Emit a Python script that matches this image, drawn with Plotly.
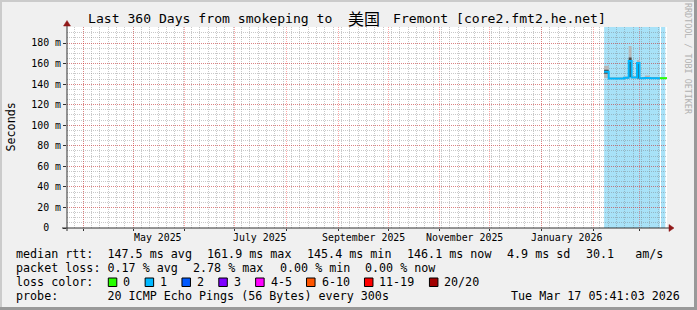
import plotly.graph_objects as go
from datetime import datetime

# ---------------- data ----------------
t_start = "2025-03-22 05:41:03"
t_end = "2026-03-17 05:41:03"

seg_time = ["2026-02-07 12:00", "2026-02-10 06:00", "2026-02-19 12:00", "2026-02-22 06:00",
            "2026-02-24 00:00", "2026-02-27 06:00", "2026-02-28 18:00", "2026-03-04 00:00",
            "2026-03-07 00:00", "2026-03-13 00:00", "2026-03-17 05:41"]
median_ms = [152.0, 145.5, 146.3, 162.5, 146.5, 160.5, 145.8, 146.0, 145.8, 145.8]
loss_bin = [1, 1, 1, 1, 1, 1, 1, 1, 1, 0]
smoke_min = [146.0, 144.8, 145.2, 146.0, 145.5, 145.0, 145.0, 145.2, 145.0, 145.2]
smoke_max = [158.0, 146.8, 147.5, 177.0, 148.0, 163.5, 147.0, 148.5, 147.0, 146.5]
core_min = [150.0, 145.0, 145.8, 147.0, 146.0, 145.5, 145.5, 145.6, 145.5, 145.5]
core_max = [154.0, 146.0, 146.8, 166.0, 147.0, 161.5, 146.2, 147.0, 146.2, 146.0]
lossbg_from = ["2026-02-07 12:00", "2026-03-13 15:00"]
lossbg_to = ["2026-03-13 00:00", "2026-03-16 05:00"]

loss_labels = ["0", "1", "2", "3", "4-5", "6-10", "11-19", "20/20"]
loss_colors = ["#26ff00", "#00b8ff", "#0059ff", "#7e00ff", "#ff00ff", "#ff5500", "#ff0000", "#a10000"]

y_ticks = [0, 20, 40, 60, 80, 100, 120, 140, 160, 180]
y_ticklabels = ["0  ", "20 m", "40 m", "60 m", "80 m", "100 m", "120 m", "140 m", "160 m", "180 m"]
x_label_dates = ["2025-05-16", "2025-07-16", "2025-09-16", "2025-11-16", "2026-01-16"]
x_labels = ["May 2025", "July 2025", "September 2025", "November 2025", "January 2026"]

title_a = "Last 360 Days from smokeping to"
title_b = "美国"
title_c = "Fremont [core2.fmt2.he.net]"
rtt_items = ["median rtt:  147.5 ms avg", "161.9 ms max", "145.4 ms min", "146.1 ms now",
             "4.9 ms sd", "30.1   am/s"]
loss_items = ["packet loss: 0.17 % avg", "2.78 % max", "0.00 % min", "0.00 % now"]
line_color = "loss color:"
line_probe = "probe:       20 ICMP Echo Pings (56 Bytes) every 300s"
stamp = "Tue Mar 17 05:41:03 2026"
side_text = "RRDTOOL / TOBI OETIKER"

# ---------------- layout geometry ----------------
W, H = 697, 310
L, R, T, B = 67, 30, 27, 82
PW, PH = W - L - R, H - T - B
MONO = "DejaVu Sans Mono"
rtt_x = [16, 207.3, 307.2, 407.3, 506.7, 586]
loss_x = [16, 193.3, 279.5, 365.3]


def px(x):
    return (x - L) / PW


def py(y):
    return (H - B - y) / PH


def nb(s):
    return s.replace(" ", "\u00a0")


fig = go.Figure()

# smoke (outer and core) drawn as step bands
xs = seg_time
for lo, hi, col in [(smoke_min, smoke_max, "#b8b8b8"), (core_min, core_max, "#4a4a4a")]:
    fig.add_trace(go.Scatter(x=xs, y=lo + [lo[-1]], mode="lines", line=dict(width=0, shape="hv"),
                             hoverinfo="skip", showlegend=False))
    fig.add_trace(go.Scatter(x=xs, y=hi + [hi[-1]], mode="lines", line=dict(width=0, shape="hv"),
                             fill="tonexty", fillcolor=col, hoverinfo="skip", showlegend=False))

# median line, coloured by loss
i = 0
n = len(median_ms)
while i < n:
    j = i
    while j + 1 < n and loss_bin[j + 1] == loss_bin[i]:
        j += 1
    xx = seg_time[i:j + 2]
    yy = median_ms[i:j + 1] + [median_ms[j]]
    fig.add_trace(go.Scatter(x=xx, y=yy, mode="lines",
                             line=dict(color=loss_colors[loss_bin[i]], width=2, shape="hv"),
                             hoverinfo="skip", showlegend=False))
    i = j + 1

shapes = []
# loss background columns (below grid)
for a, b in zip(lossbg_from, lossbg_to):
    shapes.append(dict(type="rect", xref="x", yref="paper", x0=a, x1=b, y0=0, y1=1,
                       fillcolor="#a8e2f8", line=dict(width=0), layer="below"))

# frame shading
shapes += [
    dict(type="rect", xref="paper", yref="paper", x0=px(0), x1=px(W), y0=py(0), y1=py(2),
         fillcolor="#cbcbcb", line=dict(width=0), layer="above"),
    dict(type="rect", xref="paper", yref="paper", x0=px(0), x1=px(2), y0=py(0), y1=py(H),
         fillcolor="#cbcbcb", line=dict(width=0), layer="above"),
    dict(type="rect", xref="paper", yref="paper", x0=px(W - 3), x1=px(W), y0=py(0), y1=py(H),
         fillcolor="#999999", line=dict(width=0), layer="above"),
    dict(type="rect", xref="paper", yref="paper", x0=px(0), x1=px(W), y0=py(H - 3), y1=py(H),
         fillcolor="#999999", line=dict(width=0), layer="above"),
]
# axes and arrows
AX = "#303030"
AR = "#901818"
shapes += [
    dict(type="line", xref="paper", yref="paper", x0=px(62), x1=px(670), y0=py(228), y1=py(228),
         line=dict(color=AX, width=1), layer="above"),
    dict(type="line", xref="paper", yref="paper", x0=px(67), x1=px(67), y0=py(231), y1=py(22),
         line=dict(color=AX, width=1), layer="above"),
    dict(type="path", xref="paper", yref="paper",
         path="M %f %f L %f %f L %f %f Z" % (px(669), py(224.5), px(674), py(228), px(669), py(231.5)),
         fillcolor=AR, line=dict(color=AR, width=0.5), layer="above"),
    dict(type="path", xref="paper", yref="paper",
         path="M %f %f L %f %f L %f %f Z" % (px(63.5), py(26), px(67), py(20.5), px(70.5), py(26)),
         fillcolor=AR, line=dict(color=AR, width=0.5), layer="above"),
]

annotations = []


def txt(s, x, y, size, anchor="left", color="#000000", font=MONO, angle=0):
    annotations.append(dict(text=nb(s), x=px(x), y=py(y), xref="paper", yref="paper",
                            xanchor=anchor, yanchor="middle", showarrow=False,
                            font=dict(family=font, size=size, color=color),
                            borderpad=0, borderwidth=0, textangle=angle))


# title
txt(title_a, 88.3, 18.5, 13.1)
txt(title_b, 364, 18.5, 16, anchor="center", font="Noto Sans CJK SC")
txt(title_c, 392.7, 18.5, 13.1)
# side text
txt(side_text, 688, 59, 8.4, anchor="center", color="#b0b0b0", angle=90)
# y title
txt("Seconds", 10, 127.5, 11.7, anchor="center", angle=-90)

# x labels via the x scale
for d, lab in zip(x_label_dates, x_labels):
    annotations.append(dict(text=nb(lab), x=d, y=py(237.3), xref="x", yref="paper",
                            xanchor="center", yanchor="middle", showarrow=False,
                            font=dict(family=MONO, size=9.9, color="#000000"),
                            borderpad=0, borderwidth=0))

# legend lines
CW = 7.034
for s, x in zip(rtt_items, rtt_x):
    txt(s, x, 254.3, 11.7)
for s, x in zip(loss_items, loss_x):
    txt(s, x, 268.2, 11.7)
txt(line_color, 16, 282.3, 11.7)
txt(line_probe, 16, 296.2, 11.7)
txt(stamp, 680, 296.2, 11.7, anchor="right")

bx = 108.3
for lab, col in zip(loss_labels, loss_colors):
    shapes.append(dict(type="rect", xref="paper", yref="paper", x0=px(bx), x1=px(bx + 8.5),
                       y0=py(286.5), y1=py(278), fillcolor=col, line=dict(color="#000000", width=1),
                       layer="above"))
    lx = bx + 15
    txt(lab, lx, 282.3, 11.7)
    bx = lx + len(lab) * CW + 14.8

# grid helpers
month_starts = []
d = datetime(2025, 4, 1)
while d < datetime(2026, 3, 17):
    month_starts.append(d.strftime("%Y-%m-%d"))
    d = datetime(d.year + (d.month // 12), d.month % 12 + 1, 1)

fig.update_layout(
    width=W, height=H, autosize=False,
    margin=dict(l=L, r=R, t=T, b=B, pad=0),
    paper_bgcolor="#f0f0f0", plot_bgcolor="#ffffff",
    shapes=shapes, annotations=annotations, showlegend=False,
    xaxis=dict(type="date", range=[t_start, t_end], tickmode="array", tickvals=month_starts,
               showticklabels=False, ticks="outside", ticklen=2, tickcolor=AX,
               showgrid=True, gridcolor="rgba(255,0,0,0.35)", griddash="1px,1px", gridwidth=1,
               zeroline=False, showline=False,
               minor=dict(showgrid=True, tick0="2025-03-22", dtick=5 * 86400000,
                          gridcolor="rgba(120,120,120,0.4)", griddash="1px,1px", gridwidth=1)),
    yaxis=dict(range=[0, 195.6], tickmode="array", tickvals=y_ticks,
               ticktext=[nb(s) for s in y_ticklabels],
               tickfont=dict(family=MONO, size=9.9, color="#000000"),
               ticks="outside", ticklen=3, tickcolor=AX,
               showgrid=True, gridcolor="rgba(255,0,0,0.35)", griddash="1px,1px", gridwidth=1,
               zeroline=False, showline=False,
               minor=dict(showgrid=True, dtick=5,
                          gridcolor="rgba(120,120,120,0.4)", griddash="1px,1px", gridwidth=1)),
)

fig.write_html("out.html", config={"displayModeBar": False})
